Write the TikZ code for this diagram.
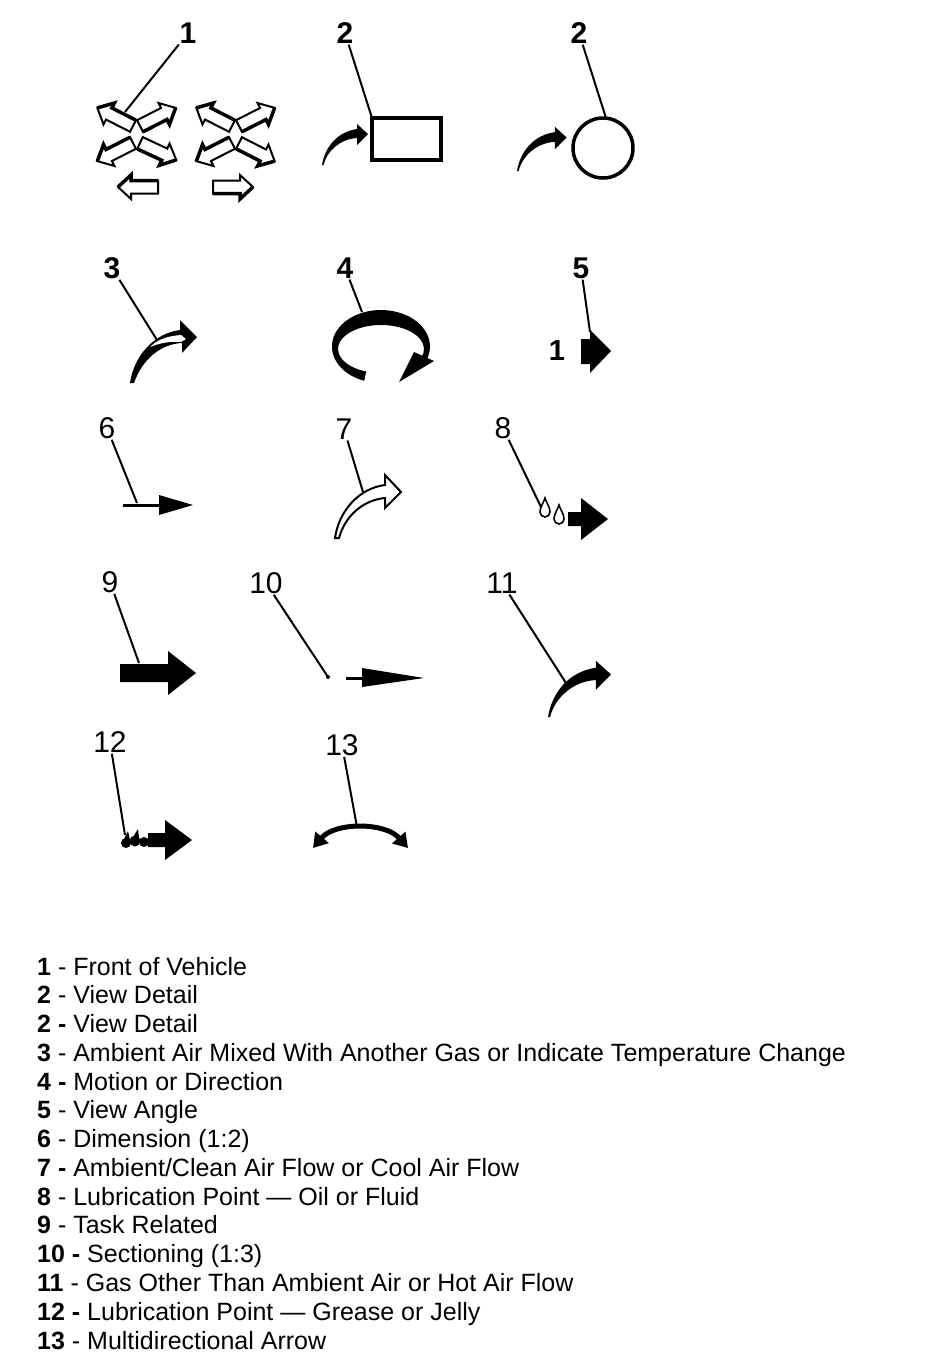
\documentclass[tikz,border=0pt]{standalone}
\usepackage{fontspec}
\setmainfont{Liberation Sans}
\usetikzlibrary{arrows.meta}

\begin{document}
\begin{tikzpicture}[x=1pt, y=-1pt, line join=miter]
    % Styles
    \tikzstyle{callout} = [inner sep=1pt, font=\fontsize{30}{30}\selectfont]
    \tikzstyle{boldcallout} = [callout, font=\fontsize{30}{30}\selectfont\bfseries]
    \tikzstyle{leader} = [draw, line width=2pt]
    \tikzstyle{legend} = [anchor=base west, inner sep=0pt, font=\fontsize{25}{25}\selectfont]
    \tikzstyle{solid arrow} = [fill=black]
    \tikzset{
      hollowarrow/.pic={
        \draw[line width=2pt, fill=white] (0,-6.5) -- (27,-6.5) -- (27,-12) -- (40,0) -- (27,12) -- (27,6.5) -- (0,6.5) -- cycle;
        \draw[line width=3.5pt] (0,6.5) -- (27,6.5) -- (27,12) -- (40,0);
      },
      swoosh/.pic={
        \fill (0,0) .. controls (3,-18) and (15,-33) .. (35,-36) -- (35,-41) -- (46,-31) -- (35,-20) -- (35,-27)
          .. controls (18,-26) and (5,-14) .. (1.5,0) -- cycle;
      },
      openswoosh/.pic={
        \draw[line width=2pt, fill=white] (0,0) .. controls (4,-28) and (25,-50) .. (50,-53) -- (50,-63) -- (66,-46) -- (50,-30) -- (50,-40)
          .. controls (28,-38) and (10,-22) .. (4,0) -- cycle;
      },
      drop/.pic={
        \draw[line width=1.6pt] (0,0) .. controls (1.5,5) and (5,9) .. (5,14) arc[start angle=0, end angle=180, radius=5]
          .. controls (-5,9) and (-1.5,5) .. (0,0) -- cycle;
      }
    }

    \useasboundingbox (0,0) rectangle (928,1360);

    % Symbols
    % 1 - front of vehicle
    \pic[rotate=153] at (133,126) {hollowarrow};
    \pic[rotate=27] at (140,126) {hollowarrow};
    \pic[rotate=207] at (133,143) {hollowarrow};
    \pic[rotate=-25] at (140,143) {hollowarrow};
    \pic[rotate=153] at (232,126) {hollowarrow};
    \pic[rotate=27] at (239,126) {hollowarrow};
    \pic[rotate=207] at (232,143) {hollowarrow};
    \pic[rotate=-27] at (239,143) {hollowarrow};
    \pic[rotate=180] at (158,187) {hollowarrow};
    \pic at (213,187) {hollowarrow};

    % 2 - view detail
    \draw[line width=4pt] (372,118) rectangle (441,160);
    \pic at (322,165) {swoosh};
    \draw[line width=3.5pt] (603,148) circle (30);
    \pic[scale=1.08] at (517,171) {swoosh};

    % 3 - mixed air
    \fill (130,383) .. controls (134,355) and (155,333) .. (180,330) -- (180,320) -- (197,337) -- (182,353) -- (182,343)
      .. controls (160,344) and (142,360) .. (134,383) -- cycle;
    \fill[white] (150,347) .. controls (158,339) and (168,336) .. (181,335) -- (186,339) -- (181,342)
      .. controls (170,341) and (160,343) .. (150,347) -- cycle;

    % 4 - motion
    \fill (364.2,380.8) arc[start angle=110, end angle=380, x radius=49, y radius=36.5]
      -- (421.4,357.2) arc[start angle=380, end angle=110, x radius=43, y radius=24] -- cycle;
    \fill (434,361) -- (399,382) -- (414,352) -- cycle;

    % 5 - view angle
    \node[font=\fontsize{29}{29}\selectfont\bfseries, inner sep=0pt] (viewnum) at (557,351) {1};
    \path[solid arrow] (581,339) -- (590,339) -- (590,330) -- (611,351) -- (590,373) -- (590,364) -- (581,364) -- cycle;

    % 6 - dimension
    \draw[line width=3pt] (123,505) -- (160,505);
    \path[solid arrow] (159,495) -- (193,505) -- (159,515) -- cycle;

    % 7 - clean air
    \pic at (335,538) {openswoosh};

    % 8 - oil
    \pic at (545,498) {drop};
    \pic at (559,505) {drop};
    \path[solid arrow] (568,512) -- (581,512) -- (581,498) -- (608,519) -- (581,540) -- (581,526) -- (568,526) -- cycle;

    % 9 - task
    \path[solid arrow] (120,664) -- (168,664) -- (168,651) -- (196,673) -- (168,695) -- (168,682) -- (120,682) -- cycle;

    % 10 - sectioning
    \fill (328,677) circle (2);
    \draw[line width=3pt] (346,678) -- (363,678);
    \path[solid arrow] (362,668) -- (424,678) -- (362,687) -- cycle;

    % 11 - hot air
    \pic[scale=1.37] at (548,717) {swoosh};

    % 12 - grease
    \fill (126,843) ellipse[x radius=5, y radius=5];
    \fill (135,841) ellipse[x radius=5.5, y radius=5.5];
    \fill (144,842) ellipse[x radius=5, y radius=5];
    \fill (124,839) -- (128,831) -- (130,840) -- cycle;
    \fill (133,837) -- (138,829) -- (139,838) -- cycle;
    \path[solid arrow] (148,833) -- (165,833) -- (165,820) -- (192,840) -- (165,860) -- (165,847) -- (148,847) -- cycle;

    % 13 - multidirectional
    \draw[line width=5pt, {Triangle[length=14pt,width=17pt]}-{Triangle[length=14pt,width=17pt]}]
      (313,848) .. controls (335,822) and (385,822) .. (408,848);

    % Callouts
    \node[boldcallout] (n1) at (188,33) {1};
    \node[boldcallout] (n2a) at (345,33) {2};
    \node[boldcallout] (n2b) at (579,33) {2};
    \node[boldcallout] (n3) at (112,268) {3};
    \node[boldcallout] (n4) at (345,268) {4};
    \node[boldcallout] (n5) at (581,268) {5};
    \node[callout] (n6) at (107,428) {6};
    \node[callout] (n7) at (344,429) {7};
    \node[callout] (n8) at (503,428) {8};
    \node[callout] (n9) at (110,582) {9};
    \node[callout] (n10) at (266,583) {10};
    \node[callout] (n11) at (502,583) {11};
    \node[callout] (n12) at (110,742) {12};
    \node[callout] (n13) at (342,745) {13};

    \coordinate (t1) at (125,112);
    \coordinate (t2a) at (372,118);
    \coordinate (t2b) at (606,118);
    \coordinate (t3) at (157,340);
    \coordinate (t4) at (362,312);
    \coordinate (t5) at (590,332);
    \coordinate (t6) at (137,503);
    \coordinate (t7) at (363,492);
    \coordinate (t8) at (541,507);
    \coordinate (t9) at (139,663);
    \coordinate (t10) at (328,677);
    \coordinate (t11) at (566,683);
    \coordinate (t12) at (125,835);
    \coordinate (t13) at (357,827);

    \foreach \k in {1,2a,2b,3,4,5,6,7,8,9,10,11,12,13}
      \path[leader] (n\k) -- (t\k);

    % Legend
    \node[legend] (leg1) at (37,975) {\textbf{1} - Front of Vehicle};
    \node[legend] (leg2) at (37,1003.8) {\textbf{2} - View Detail};
    \node[legend] (leg3) at (37,1032.5) {\textbf{2 -} View Detail};
    \node[legend] (leg4) at (37,1061.3) {\textbf{3} - Ambient Air Mixed With Another Gas or Indicate Temperature Change};
    \node[legend] (leg5) at (37,1090.1) {\textbf{4 -} Motion or Direction};
    \node[legend] (leg6) at (37,1118.9) {\textbf{5} - View Angle};
    \node[legend] (leg7) at (37,1147.6) {\textbf{6} - Dimension (1:2)};
    \node[legend] (leg8) at (37,1176.4) {\textbf{7 -} Ambient/Clean Air Flow or Cool Air Flow};
    \node[legend] (leg9) at (37,1205.2) {\textbf{8} - Lubrication Point — Oil or Fluid};
    \node[legend] (leg10) at (37,1233.9) {\textbf{9} - Task Related};
    \node[legend] (leg11) at (37,1262.7) {\textbf{10 -} Sectioning (1:3)};
    \node[legend] (leg12) at (37,1291.5) {\textbf{11} - Gas Other Than Ambient Air or Hot Air Flow};
    \node[legend] (leg13) at (37,1320.2) {\textbf{12 -} Lubrication Point — Grease or Jelly};
    \node[legend] (leg14) at (37,1349) {\textbf{13} - Multidirectional Arrow};
\end{tikzpicture}
\end{document}
